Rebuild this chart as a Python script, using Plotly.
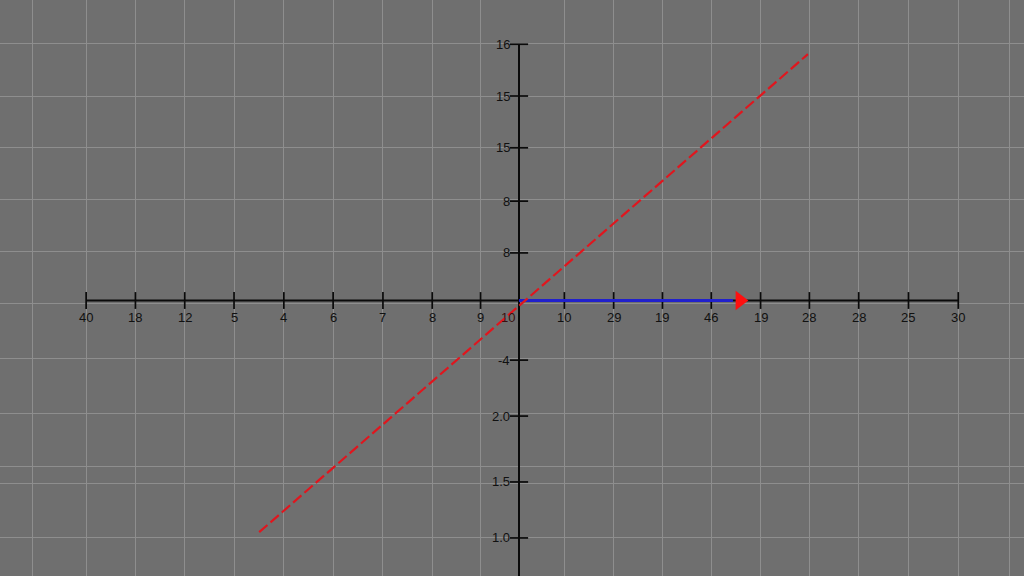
import plotly.graph_objects as go

# ---- data (axis units: one grid step = 1) ----
x_left_pos = [-8.78, -7.78, -6.78, -5.78, -4.77, -3.77, -2.76, -1.76, -0.78]
x_left_labels = ["40", "18", "12", "5", "4", "6", "7", "8", "9"]
x_right_pos = [0.92, 1.92, 2.91, 3.90, 4.90, 5.89, 6.89, 7.90, 8.91]
x_right_labels = ["10", "29", "19", "46", "19", "28", "28", "25", "30"]
origin_label = "10"
x_grid_pos = [-9.86] + x_left_pos + x_right_pos + [9.94]

y_up_pos = [4.90, 3.91, 2.92, 1.90, 0.91]
y_up_labels = ["16", "15", "15", "8", "8"]
y_down_pos = [-1.14, -2.21, -3.47, -4.54]
y_down_labels = ["-4", "2.0", "1.5", "1.0"]
y_grid_pos = [4.92, 3.91, 2.93, 1.94, 0.93, -0.05, -1.10, -2.17, -3.18, -3.49, -4.54]

red_line_x = [-5.27, 5.86]
red_line_y = [-4.43, 4.71]
blue_vec_x = [0.0, 4.34]
blue_vec_y = [0.0, 0.0]
arrow_head = (4.48, 0.0)

x_axis_span = [-8.78, 8.91]
y_axis_span = [4.90, -5.6]

X_RANGE = [-10.527, 10.243]
Y_RANGE = [-5.268, 5.746]

FONT = dict(family="Liberation Sans, Arial", size=13, color="#111111")

fig = go.Figure()

# central axes
fig.add_trace(go.Scatter(x=x_axis_span, y=[0, 0], mode="lines",
                         line=dict(color="#0a0a0a", width=2), hoverinfo="skip"))
fig.add_trace(go.Scatter(x=[0, 0], y=y_axis_span, mode="lines",
                         line=dict(color="#0a0a0a", width=2), hoverinfo="skip"))
# tick marks
fig.add_trace(go.Scatter(x=x_left_pos + x_right_pos, y=[0] * 18, mode="markers",
                         marker=dict(symbol="line-ns", size=12,
                                     line=dict(color="#0a0a0a", width=1.7)),
                         hoverinfo="skip"))
fig.add_trace(go.Scatter(x=[0] * 9, y=y_up_pos + y_down_pos, mode="markers",
                         marker=dict(symbol="line-ew", size=13,
                                     line=dict(color="#0a0a0a", width=1.7)),
                         hoverinfo="skip"))

# blue vector with red arrow head
fig.add_trace(go.Scatter(x=blue_vec_x, y=blue_vec_y, mode="lines",
                         line=dict(color="#2020cc", width=3), hoverinfo="skip"))
fig.add_trace(go.Scatter(x=[arrow_head[0]], y=[arrow_head[1]], mode="markers",
                         marker=dict(symbol="triangle-right", size=17, color="#ff1010",
                                     line=dict(width=0)),
                         hoverinfo="skip"))

annotations = []
for p, t in zip(x_left_pos + x_right_pos, x_left_labels + x_right_labels):
    annotations.append(dict(x=p, y=0, text=t, showarrow=False, xanchor="center",
                            yanchor="top", yshift=-7, font=FONT))
annotations.append(dict(x=-0.22, y=0, text=origin_label, showarrow=False, xanchor="center",
                        yanchor="top", yshift=-7,
                        font=dict(family="Liberation Sans, Arial", size=13, color="#3a1010")))
for p, t in zip(y_up_pos + y_down_pos, y_up_labels + y_down_labels):
    annotations.append(dict(x=0, y=p, text=t, showarrow=False, xanchor="right",
                            yanchor="middle", xshift=-7, font=FONT))

fig.update_layout(annotations=annotations)

# red dashed line
fig.add_trace(go.Scatter(x=red_line_x, y=red_line_y, mode="lines",
                         line=dict(color="#e0161e", width=2.2, dash="11px,4px"),
                         hoverinfo="skip"))

fig.update_layout(
    width=1024, height=576,
    margin=dict(l=0, r=0, t=0, b=0),
    paper_bgcolor="#6f6f6f", plot_bgcolor="#6f6f6f",
    showlegend=False,
    xaxis=dict(range=X_RANGE, tickvals=x_grid_pos, showticklabels=False, ticks="",
               showgrid=True, gridcolor="#8e8e8e", gridwidth=1, zeroline=False,
               showline=False, fixedrange=True),
    yaxis=dict(range=Y_RANGE, tickvals=y_grid_pos, showticklabels=False, ticks="",
               showgrid=True, gridcolor="#8e8e8e", gridwidth=1, zeroline=False,
               showline=False, fixedrange=True),
)

fig.write_html("out.html", config={"displayModeBar": False},
               post_script="document.body.style.margin='0';")
